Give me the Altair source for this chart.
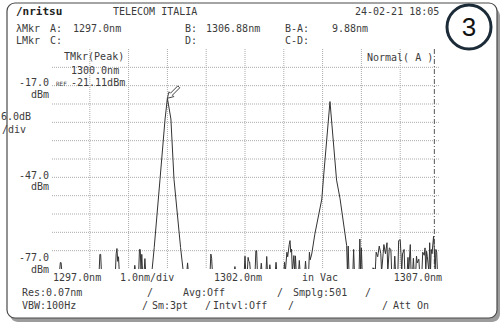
import altair as alt
import pandas as pd

# ---------------- trace: wavelength (nm) and level (dBm) ----------------
# samples at -78 lie below the bottom of the display and are clipped
WL = [
    1297.00, 1297.22, 1297.24, 1297.26, 1297.28,
    1298.24, 1298.26, 1298.28, 1298.30,
    1298.66, 1298.68, 1298.70, 1298.72, 1298.74, 1298.76,
    1299.14, 1299.16, 1299.18,
    1299.26, 1299.28, 1299.30, 1299.32, 1299.34, 1299.36,
    1299.40, 1299.42, 1299.44,
    1299.60, 1299.66, 1299.81, 1299.94, 1300.00, 1300.09, 1300.17, 1300.34, 1300.41,
    1300.50, 1300.52, 1300.54,
    1301.10, 1301.12, 1301.14, 1301.16,
    1301.72, 1301.74, 1301.76,
    1301.98, 1302.00, 1302.02, 1302.06, 1302.08, 1302.10, 1302.12, 1302.14,
    1302.26, 1302.28, 1302.30, 1302.32,
    1302.40, 1302.42, 1302.44,
    1302.54, 1302.56, 1302.58, 1302.62, 1302.64, 1302.66,
    1302.78, 1302.80, 1302.82,
    1303.00, 1303.02, 1303.04, 1303.08, 1303.10, 1303.14, 1303.16, 1303.18,
    1303.20, 1303.22, 1303.26, 1303.28, 1303.30, 1303.32, 1303.38, 1303.40, 1303.42,
    1303.54, 1303.56, 1303.58, 1303.64, 1303.66, 1303.68,
    1303.72, 1303.80, 1303.98, 1304.02, 1304.19, 1304.36, 1304.45, 1304.62, 1304.64,
    1304.66, 1304.68,
    1304.78, 1304.80, 1304.82,
    1304.94, 1304.96, 1304.98, 1305.00, 1305.02,
    1305.28, 1305.30, 1305.32,
    1305.36, 1305.38, 1305.42, 1305.46, 1305.50, 1305.52, 1305.56, 1305.58, 1305.62,
    1305.66, 1305.68, 1305.72, 1305.76, 1305.78, 1305.84, 1305.86, 1305.88,
    1305.94, 1305.96, 1306.00, 1306.02, 1306.04, 1306.06, 1306.10, 1306.12,
    1306.18, 1306.20, 1306.22, 1306.26, 1306.28, 1306.32, 1306.34, 1306.36,
    1306.40, 1306.42, 1306.44, 1306.48, 1306.50, 1306.56, 1306.58, 1306.62,
    1306.64, 1306.66, 1306.68, 1306.70, 1306.74, 1306.76, 1306.78, 1306.80,
    1306.82, 1306.86, 1306.88, 1306.90, 1306.92, 1306.94, 1306.96, 1307.00,
]
DBM = [
    -78, -78, -74.9, -74.9, -78,
    -78, -72.2, -72.2, -78,
    -78, -72.0, -70.3, -74.5, -73.0, -78,
    -78, -75.8, -78,
    -78, -70.6, -70.6, -78, -72.2, -78,
    -78, -73.6, -78,
    -78, -70.0, -47.6, -27.9, -21.11, -27.9, -47.6, -70.0, -78,
    -78, -75.0, -78,
    -78, -72.1, -73.5, -78,
    -78, -76.2, -78,
    -78, -72.8, -78, -78, -73.2, -74.5, -74.7, -78,
    -78, -71.0, -71.0, -78,
    -78, -75.1, -78,
    -78, -72.9, -78, -78, -75.6, -78,
    -78, -74.8, -78,
    -78, -74.8, -78, -71.5, -73.0, -69.0, -67.7, -71.5,
    -70.5, -78, -72.6, -78, -72.7, -78, -78, -74.2, -78,
    -78, -74.4, -78, -78, -71.5, -74.0,
    -72.1, -65.6, -54.1, -47.5, -22.2, -47.9, -54.0, -69.3, -78,
    -69.5, -78,
    -78, -70.6, -78,
    -78, -67.2, -78, -70.1, -78,
    -78, -76.6, -77.0,
    -77.0, -71.5, -73.0, -69.5, -72.0, -78, -72.0, -69.0, -72.0,
    -68.4, -78, -70.1, -70.6, -78, -78, -72.8, -78,
    -78, -67.7, -67.4, -72.0, -78, -72.1, -70.6, -78,
    -78, -73.2, -78, -69.0, -78, -78, -73.5, -78,
    -78, -72.8, -75.0, -73.8, -78, -78, -71.5, -72.5,
    -70.1, -78, -71.2, -73.0, -78, -68.4, -78, -70.6,
    -72.0, -66.3, -70.6, -78, -70.6, -71.5, -78, -78,
]

# markers and peak search result
MKR_A = 1297.0
MKR_B = 1306.88
PEAK_WL = 1300.0
PEAK_DBM = -21.11

# display settings
X_START, X_STOP = 1297.0, 1307.0
Y_TOP, Y_BOTTOM = -5.0, -77.0
X_GRID = [1298.0, 1299.0, 1300.0, 1301.0, 1302.0, 1303.0, 1304.0, 1305.0, 1306.0]
Y_GRID = [-71.0, -65.0, -59.0, -53.0, -47.0, -41.0, -35.0, -29.0, -23.0, -17.0, -11.0]
Y_LABELS = [-17.0, -47.0, -77.0]
X_LABELS = [1297.0, 1302.0, 1307.0]

# ---------------- layout ----------------
TOTAL_W, TOTAL_H = 501, 325
PL, PT = 51, 49
W, H = 388, 220
PR, PB = TOTAL_W - PL - W, TOTAL_H - PT - H

MONO = "DejaVu Sans Mono"
INK = "#3c3c3c"
GRID = "#ababab"

xscale = alt.Scale(domain=[X_START, X_STOP], nice=False, zero=False)
yscale = alt.Scale(domain=[Y_BOTTOM, Y_TOP], nice=False, zero=False)

ONE = alt.Data(values=[{"_": 0}])


def label(s, px, py, align="left", size=10, weight="normal", color=INK, font=MONO):
    return alt.Chart(ONE).mark_text(
        text=s, align=align, baseline="middle", font=font,
        fontSize=size, fontWeight=weight, color=color,
    ).encode(x=alt.value(px - PL), y=alt.value(py - PT))


def box(x0, y0, x1, y1, **kw):
    return alt.Chart(ONE).mark_rect(**kw).encode(
        x=alt.value(x0 - PL), x2=alt.value(x1 - PL),
        y=alt.value(y0 - PT), y2=alt.value(y1 - PT),
    )


# instrument bezel with its drop shadow
shadow = box(10, 8, 500, 322, cornerRadius=8, fill="#9c9c9c")
bezel = box(7, 3, 497, 318, cornerRadius=8, fill="white", stroke="#4a4a4a", strokeWidth=1.2)

grid_x = alt.Chart(pd.DataFrame({"g": X_GRID})).mark_rule(
    color=GRID, strokeWidth=1, strokeDash=[1, 1]
).encode(x=alt.X("g:Q", scale=xscale, axis=None))

grid_y = alt.Chart(pd.DataFrame({"g": Y_GRID})).mark_rule(
    color=GRID, strokeWidth=1, strokeDash=[1, 1]
).encode(y=alt.Y("g:Q", scale=yscale, axis=None))

marker_b = alt.Chart(pd.DataFrame({"b": [MKR_B]})).mark_rule(
    color="#555555", strokeWidth=1, strokeDash=[5, 2, 1, 2]
).encode(x=alt.X("b:Q", scale=xscale, axis=None))

trace = alt.Chart(pd.DataFrame({"wl": WL, "dbm": DBM})).mark_line(
    color="#333333", strokeWidth=1, clip=True
).encode(
    x=alt.X("wl:Q", scale=xscale, axis=None),
    y=alt.Y("dbm:Q", scale=yscale, axis=None),
    order="wl:Q",
)

# hollow arrow pointing at the peak (tip of the path at the origin)
ARROW = "M0,0L0.566,-0.141L0.438,-0.269L1.082,-0.912L0.912,-1.082L0.269,-0.438L0.141,-0.566Z"
peak_arrow = alt.Chart(pd.DataFrame({"wl": [PEAK_WL], "dbm": [PEAK_DBM]})).mark_point(
    shape=ARROW, size=520, filled=True, fill="white", stroke="#444444", strokeWidth=1, opacity=1
).encode(
    x=alt.X("wl:Q", scale=xscale, axis=None),
    y=alt.Y("dbm:Q", scale=yscale, axis=None),
)

# level labels on the left
LEVEL_OFFSETS = {-17.0: (-2.5, 9.5), -47.0: (-1.5, 9.5), -77.0: (-11.0, 1.0)}
ylabels = []
for v in Y_LABELS:
    d_num, d_unit = LEVEL_OFFSETS[v]
    one = pd.DataFrame({"v": [v], "t": [f"{v:.1f}"]})
    ylabels.append(alt.Chart(one).mark_text(
        align="right", baseline="middle", font=MONO, fontSize=10, color=INK, dy=d_num
    ).encode(x=alt.value(49 - PL), y=alt.Y("v:Q", scale=yscale, axis=None), text="t:N"))
    ylabels.append(alt.Chart(one).mark_text(
        text="dBm", align="right", baseline="middle", font=MONO, fontSize=10, color=INK, dy=d_unit
    ).encode(x=alt.value(49 - PL), y=alt.Y("v:Q", scale=yscale, axis=None)))

# wavelength labels under the plot
XLAB_STYLE = {1297.0: ("left", 2), 1302.0: ("center", -7), 1307.0: ("right", 3)}
xlabels = []
for v in X_LABELS:
    al, dx = XLAB_STYLE[v]
    one = pd.DataFrame({"v": [v], "t": [f"{v:.1f}nm"]})
    xlabels.append(alt.Chart(one).mark_text(
        align=al, baseline="middle", font=MONO, fontSize=10, color=INK, dx=dx
    ).encode(x=alt.X("v:Q", scale=xscale, axis=None), y=alt.value(278 - PT), text="t:N"))

texts = [
    label("/nritsu", 16, 12, weight="bold", size=11, color="#222222"),
    label("TELECOM ITALIA", 113, 12),
    label("24-02-21 18:05", 355, 12),
    label("λMkr", 16, 29),
    label("A:", 50, 29),
    label(f"{MKR_A:.1f}nm", 73, 29),
    label("B:", 185, 29),
    label(f"{MKR_B:.2f}nm", 206, 29),
    label("B-A:", 285, 29),
    label(f"{MKR_B - MKR_A:.2f}nm", 332, 29),
    label("LMkr", 16, 41),
    label("C:", 50, 41),
    label("D:", 185, 41),
    label("C-D:", 285, 41),
    label("TMkr(Peak)", 64, 57),
    label(f"{PEAK_WL:.1f}nm", 71, 71),
    label("REF", 56, 84, size=6),
    label(f"{PEAK_DBM:.2f}dBm", 71, 83),
    label("Normal( A )", 367, 58),
    label("6.0dB", 1, 117),
    label("/div", 2, 130),
    label("1.0nm/div", 120, 278),
    label("in Vac", 302, 278),
    label("Res:0.07nm", 22, 293),
    label("/", 147, 293),
    label("Avg:Off", 183, 293),
    label("/", 277, 293),
    label("Smplg:501", 293, 293),
    label("/", 365, 293),
    label("VBW:100Hz", 22, 306),
    label("/", 142, 306),
    label("Sm:3pt", 152, 306),
    label("/", 205, 306),
    label("Intvl:Off", 213, 306),
    label("/", 288, 306),
    label("/", 382, 306),
    label("Att On", 393, 306),
]

badge_ring = alt.Chart(ONE).mark_point(
    shape="circle", size=1936, filled=False, stroke="#1c2b38", strokeWidth=3, opacity=1
).encode(x=alt.value(469 - PL), y=alt.value(27 - PT))
badge_num = label("3", 469, 28, align="center", size=26, color="#111111", font="Liberation Sans")

chart = alt.layer(
    shadow, bezel, grid_x, grid_y, marker_b, trace, peak_arrow,
    *ylabels, *xlabels, *texts, badge_ring, badge_num,
).properties(
    width=W, height=H,
    padding={"left": PL, "top": PT, "right": PR, "bottom": PB},
    autosize=alt.AutoSizeParams(type="none"),
    background="white",
).configure_view(stroke="#555555", strokeWidth=1.5, fill="white")

chart.save("out.html", embed_options={"renderer": "svg", "actions": False})
